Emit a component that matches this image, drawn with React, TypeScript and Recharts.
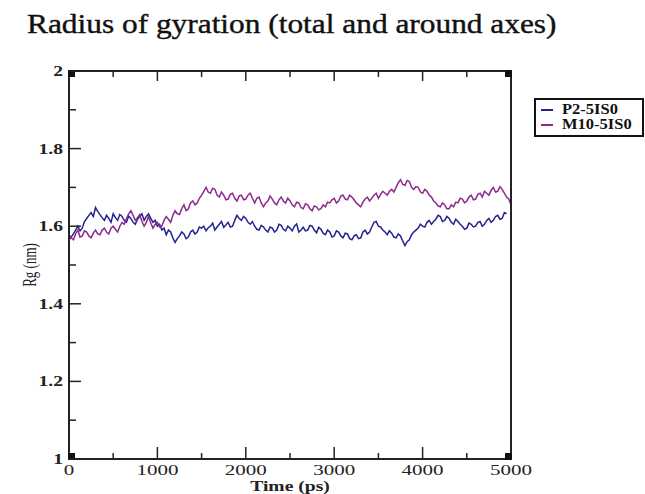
import React from 'react';
import { LineChart, Line, XAxis, YAxis, Legend } from 'recharts';

// time in ps
const times = [
  0, 25, 50, 75, 100, 125, 150, 175, 200, 225,
  250, 275, 300, 325, 350, 375, 400, 425, 450, 475,
  500, 525, 550, 575, 600, 625, 650, 675, 700, 725,
  750, 775, 800, 825, 850, 875, 900, 925, 950, 975,
  1000, 1025, 1050, 1075, 1100, 1125, 1150, 1175, 1200, 1225,
  1250, 1275, 1300, 1325, 1350, 1375, 1400, 1425, 1450, 1475,
  1500, 1525, 1550, 1575, 1600, 1625, 1650, 1675, 1700, 1725,
  1750, 1775, 1800, 1825, 1850, 1875, 1900, 1925, 1950, 1975,
  2000, 2025, 2050, 2075, 2100, 2125, 2150, 2175, 2200, 2225,
  2250, 2275, 2300, 2325, 2350, 2375, 2400, 2425, 2450, 2475,
  2500, 2525, 2550, 2575, 2600, 2625, 2650, 2675, 2700, 2725,
  2750, 2775, 2800, 2825, 2850, 2875, 2900, 2925, 2950, 2975,
  3000, 3025, 3050, 3075, 3100, 3125, 3150, 3175, 3200, 3225,
  3250, 3275, 3300, 3325, 3350, 3375, 3400, 3425, 3450, 3475,
  3500, 3525, 3550, 3575, 3600, 3625, 3650, 3675, 3700, 3725,
  3750, 3775, 3800, 3825, 3850, 3875, 3900, 3925, 3950, 3975,
  4000, 4025, 4050, 4075, 4100, 4125, 4150, 4175, 4200, 4225,
  4250, 4275, 4300, 4325, 4350, 4375, 4400, 4425, 4450, 4475,
  4500, 4525, 4550, 4575, 4600, 4625, 4650, 4675, 4700, 4725,
  4750, 4775, 4800, 4825, 4850, 4875, 4900, 4925, 4950, 4975,
  5000,
];

// Rg (nm), P2-5IS0
const p2 = [
  1.565, 1.572, 1.58, 1.59, 1.6, 1.588, 1.595, 1.612, 1.62, 1.628,
  1.635, 1.625, 1.648, 1.638, 1.63, 1.622, 1.615, 1.628, 1.62, 1.61,
  1.632, 1.622, 1.615, 1.63, 1.625, 1.615, 1.61, 1.626, 1.62, 1.61,
  1.605, 1.618, 1.625, 1.632, 1.615, 1.625, 1.632, 1.62, 1.61, 1.615,
  1.6, 1.605, 1.59, 1.595, 1.578, 1.59, 1.585, 1.57, 1.558, 1.568,
  1.575, 1.585, 1.58, 1.568, 1.572, 1.585, 1.59, 1.58, 1.585, 1.598,
  1.595, 1.6, 1.588, 1.596, 1.6, 1.608, 1.59, 1.598, 1.605, 1.612,
  1.597, 1.603, 1.61, 1.598, 1.6, 1.615, 1.628, 1.62, 1.615, 1.625,
  1.62, 1.61, 1.605, 1.612, 1.6, 1.592, 1.59, 1.602, 1.598, 1.59,
  1.585, 1.598, 1.595, 1.585, 1.59, 1.605, 1.602, 1.592, 1.588, 1.6,
  1.595, 1.588, 1.6, 1.606, 1.585, 1.59, 1.597, 1.588, 1.59, 1.602,
  1.6, 1.59, 1.583, 1.597, 1.592, 1.582, 1.578, 1.59, 1.585, 1.572,
  1.575, 1.588, 1.585, 1.575, 1.57, 1.582, 1.58, 1.568, 1.565, 1.575,
  1.578, 1.568, 1.57, 1.585, 1.59, 1.58, 1.585, 1.598, 1.61, 1.612,
  1.6, 1.598, 1.59, 1.585, 1.578, 1.588, 1.582, 1.572, 1.57, 1.58,
  1.575, 1.562, 1.55, 1.56, 1.565, 1.578, 1.585, 1.59, 1.595, 1.605,
  1.6, 1.598, 1.61, 1.615, 1.605, 1.612, 1.618, 1.628, 1.625, 1.612,
  1.615, 1.625, 1.62, 1.61, 1.605, 1.618, 1.612, 1.605, 1.6, 1.592,
  1.595, 1.608, 1.605, 1.598, 1.6, 1.61, 1.612, 1.6, 1.605, 1.615,
  1.62, 1.61, 1.615, 1.625, 1.628, 1.618, 1.62, 1.635, 1.632, null,
  null,
];

// Rg (nm), M10-5IS0
const m10 = [
  1.578, 1.57, 1.565, 1.58, 1.59, 1.572, 1.575, 1.588, 1.585, 1.575,
  1.57, 1.582, 1.59, 1.58, 1.578, 1.59, 1.595, 1.585, 1.58, 1.595,
  1.6, 1.592, 1.585, 1.6, 1.61, 1.605, 1.62, 1.632, 1.64, 1.628,
  1.615, 1.622, 1.63, 1.612, 1.6, 1.61, 1.625, 1.608, 1.595, 1.605,
  1.61, 1.598, 1.6, 1.615, 1.625, 1.618, 1.61, 1.628, 1.64, 1.632,
  1.63, 1.645, 1.655, 1.64, 1.645, 1.66, 1.665, 1.655, 1.66, 1.672,
  1.68, 1.69, 1.7, 1.688, 1.685, 1.698, 1.695, 1.68, 1.675, 1.688,
  1.68, 1.668, 1.67, 1.682, 1.685, 1.672, 1.665, 1.678, 1.68, 1.668,
  1.67, 1.68, 1.685, 1.672, 1.66, 1.672, 1.675, 1.66, 1.65, 1.66,
  1.665, 1.678, 1.67, 1.66, 1.655, 1.668, 1.675, 1.665, 1.66, 1.672,
  1.665, 1.655, 1.65, 1.662, 1.66, 1.648, 1.645, 1.658, 1.655, 1.645,
  1.64, 1.652, 1.65, 1.642, 1.645, 1.655, 1.65, 1.662, 1.66, 1.668,
  1.672, 1.66, 1.665, 1.678, 1.68, 1.67, 1.668, 1.68, 1.675, 1.668,
  1.66, 1.655, 1.65, 1.662, 1.67, 1.675, 1.665, 1.672, 1.68, 1.685,
  1.672, 1.682, 1.69, 1.685, 1.68, 1.69, 1.695, 1.688, 1.7, 1.712,
  1.72, 1.708, 1.705, 1.718, 1.715, 1.7, 1.695, 1.702, 1.7, 1.688,
  1.685, 1.695, 1.69, 1.68, 1.675, 1.665, 1.66, 1.652, 1.65, 1.66,
  1.655, 1.645, 1.645, 1.655, 1.65, 1.662, 1.66, 1.672, 1.67, 1.66,
  1.665, 1.675, 1.68, 1.668, 1.67, 1.682, 1.685, 1.675, 1.69, 1.685,
  1.68, 1.692, 1.7, 1.688, 1.69, 1.702, 1.695, 1.685, 1.675, 1.67,
  1.655,
];

const seriesNames = ['P2-5IS0', 'M10-5IS0'];
const xTicks = [0, 500, 1000, 1500, 2000, 2500, 3000, 3500, 4000, 4500, 5000];
const xMajor = [0, 1000, 2000, 3000, 4000, 5000];
const yTicks = [1, 1.1, 1.2, 1.3, 1.4, 1.5, 1.6, 1.7, 1.8, 1.9, 2];
const yMajor = ['1', '1.2', '1.4', '1.6', '1.8', '2'];

const data = times.map((t, i) => ({ time: t, p2: p2[i], m10: m10[i] }));

const FONT = '"Liberation Serif", "Times New Roman", serif';
const AXIS = '#222';
const STRETCH = 1.4;

const isMajorX = (v: number) => xMajor.includes(v);
const isMajorY = (v: number) => yMajor.includes(String(Number(v.toFixed(1))));

const Corner = ({ x, y }: { x: number; y: number }) => (
  <rect x={x} y={y} width={7} height={7} fill="#111" />
);

const BottomTick = (props: any) => {
  const { x, y, payload } = props;
  const v = payload.value;
  const major = isMajorX(v);
  return (
    <g>
      <line x1={x} y1={y} x2={x} y2={y - (major ? 12 : 6)} stroke={AXIS} strokeWidth={1.5} />
      {(v === 0 || v === 5000) && <Corner x={v === 0 ? x - 1 : x - 6} y={y - 6} />}
      {major && (
        <text
          transform={`translate(${x},${y + 16}) scale(${STRETCH},1)`}
          textAnchor="middle"
          fontFamily={FONT}
          fontSize={15}
          fill="#222"
        >
          {v}
        </text>
      )}
    </g>
  );
};

const TopTick = (props: any) => {
  const { x, y, payload } = props;
  const v = payload.value;
  const major = isMajorX(v);
  return (
    <g>
      <line x1={x} y1={y} x2={x} y2={y + (major ? 10 : 6)} stroke={AXIS} strokeWidth={1.5} />
      {(v === 0 || v === 5000) && <Corner x={v === 0 ? x - 1 : x - 6} y={y - 1} />}
    </g>
  );
};

const LeftTick = (props: any) => {
  const { x, y, payload } = props;
  const v = payload.value;
  const major = isMajorY(v);
  return (
    <g>
      <line x1={x} y1={y} x2={x + (major ? 12 : 7)} y2={y} stroke={AXIS} strokeWidth={1.5} />
      {major && (
        <text
          transform={`translate(${x - 6},${y + 5}) scale(${STRETCH},1)`}
          textAnchor="end"
          fontFamily={FONT}
          fontWeight="bold"
          fontSize={14}
          fill="#222"
        >
          {Number(v.toFixed(1))}
        </text>
      )}
    </g>
  );
};

const RightTick = (props: any) => {
  const { x, y, payload } = props;
  const major = isMajorY(payload.value);
  return <line x1={x} y1={y} x2={x - (major ? 12 : 7)} y2={y} stroke={AXIS} strokeWidth={1.5} />;
};

const XTitle = (props: any) => {
  const { x, y, width } = props.viewBox;
  return (
    <text
      transform={`translate(${x + width / 2},${y + 32}) scale(${STRETCH},1)`}
      textAnchor="middle"
      fontFamily={FONT}
      fontWeight="bold"
      fontSize={14}
      fill="#222"
    >
      Time (ps)
    </text>
  );
};

const YTitle = (props: any) => {
  const { x, y, height } = props.viewBox;
  return (
    <text
      transform={`translate(${x - 32},${y + height / 2}) scale(${STRETCH},1) rotate(-90)`}
      textAnchor="middle"
      fontFamily={FONT}
      fontSize={13}
      fill="#222"
    >
      Rg (nm)
    </text>
  );
};

const LegendBox = (props: any) => {
  const items = [...(props.payload || [])].sort(
    (a: any, b: any) => seriesNames.indexOf(a.value) - seriesNames.indexOf(b.value)
  );
  return (
    <div
      style={{
        border: '2px solid #111',
        width: 106,
        padding: '2px 0 3px 0',
        background: '#fff',
        fontFamily: FONT,
        fontWeight: 'bold',
        fontSize: 15,
        lineHeight: '15px',
      }}
    >
      {items.map((p: any) => (
        <div key={p.value} style={{ display: 'flex', alignItems: 'center', height: 15 }}>
          <span style={{ display: 'inline-block', width: 12, height: 2, background: p.color, margin: '0 9px 0 5px' }} />
          <span style={{ display: 'inline-block', transform: 'scaleX(1.1)', transformOrigin: 'left center', color: '#111' }}>
            {p.value}
          </span>
        </div>
      ))}
    </div>
  );
};

export default function App() {
  return (
    <div style={{ position: 'absolute', left: 0, top: 0, width: 645, height: 494, background: '#fff' }}>
      <div
        style={{
          position: 'absolute',
          left: 27,
          top: 8,
          fontFamily: FONT,
          fontSize: 28,
          color: '#111',
          whiteSpace: 'nowrap',
          transform: 'scaleX(1.12)',
          transformOrigin: 'left top',
          WebkitTextStroke: '0.4px #111',
        }}
      >
        Radius of gyration (total and around axes)
      </div>
      <div style={{ position: 'absolute', left: 0, top: 0 }}>
        <LineChart
          width={645}
          height={494}
          data={data}
          margin={{ top: 70, right: 133, bottom: 34, left: 68 }}
        >
          <XAxis
            xAxisId="bottom"
            dataKey="time"
            type="number"
            domain={[0, 5000]}
            ticks={xTicks}
            height={1}
            tickSize={0}
            tickMargin={0}
            tick={<BottomTick />}
            axisLine={{ stroke: AXIS, strokeWidth: 2 }}
            tickLine={false}
            interval={0}
            label={<XTitle />}
          />
          <XAxis
            xAxisId="top"
            orientation="top"
            dataKey="time"
            type="number"
            domain={[0, 5000]}
            ticks={xTicks}
            height={1}
            tickSize={0}
            tickMargin={0}
            tick={<TopTick />}
            axisLine={{ stroke: AXIS, strokeWidth: 2 }}
            tickLine={false}
            interval={0}
          />
          <YAxis
            yAxisId="left"
            type="number"
            domain={[1, 2]}
            ticks={yTicks}
            width={1}
            tickSize={0}
            tickMargin={0}
            tick={<LeftTick />}
            axisLine={{ stroke: AXIS, strokeWidth: 2 }}
            tickLine={false}
            interval={0}
            label={<YTitle />}
          />
          <YAxis
            yAxisId="right"
            orientation="right"
            type="number"
            domain={[1, 2]}
            ticks={yTicks}
            width={1}
            tickSize={0}
            tickMargin={0}
            tick={<RightTick />}
            axisLine={{ stroke: AXIS, strokeWidth: 2 }}
            tickLine={false}
            interval={0}
          />
          <Legend
            layout="horizontal"
            verticalAlign="middle"
            align="left"
            content={<LegendBox />}
            wrapperStyle={{ position: 'absolute', left: 534, top: 98, width: 0, height: 0, overflow: 'visible' }}
          />
          <Line
            xAxisId="bottom"
            yAxisId="left"
            dataKey="p2"
            name={seriesNames[0]}
            stroke="#25238f"
            strokeWidth={1.5}
            dot={false}
            isAnimationActive={false}
          />
          <Line
            xAxisId="bottom"
            yAxisId="left"
            dataKey="m10"
            name={seriesNames[1]}
            stroke="#8e2a8e"
            strokeWidth={1.5}
            dot={false}
            isAnimationActive={false}
          />
        </LineChart>
      </div>
    </div>
  );
}
